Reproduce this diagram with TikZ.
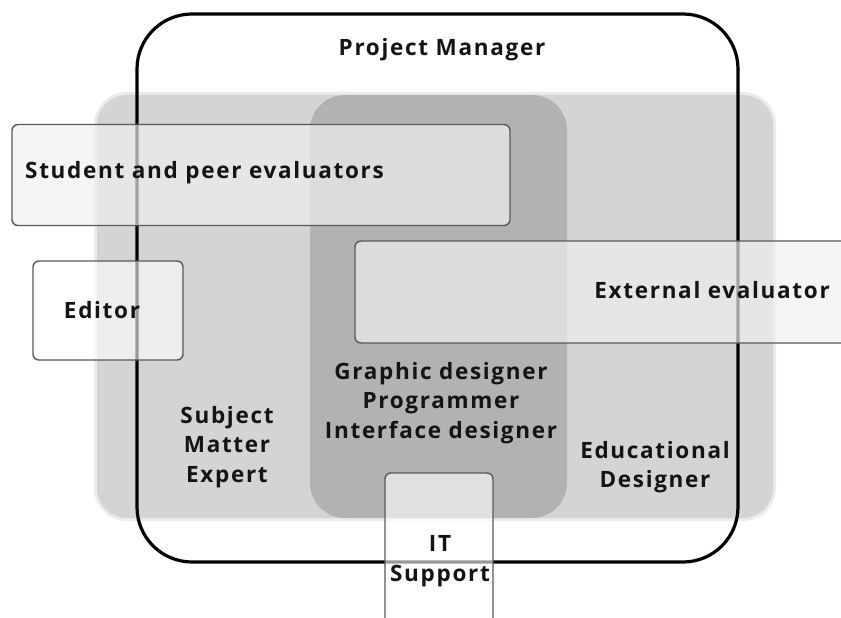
\documentclass[tikz,border=0pt]{standalone}
\usepackage{fontspec}
\setmainfont{Open Sans}[LetterSpace=7.5]
\begin{document}
\begin{tikzpicture}[x=1pt,y=-1pt,
  lbl/.style={font=\bfseries\fontsize{22.5}{29.5}\selectfont, align=center, inner sep=0pt, text=black!92},
  boxshape/.style={draw=black!65, line width=1.4pt, rounded corners=6pt, rectangle, inner sep=0pt},
  greybox/.style={boxshape, fill={rgb,255:red,240;green,240;blue,240}, fill opacity=0.68},
  whitebox/.style={boxshape, fill=white, fill opacity=0.6}]
\useasboundingbox (0,0) rectangle (841,618);
\clip (0,0) rectangle (841,618);
% soft halos
\fill[black!8, rounded corners=33pt] (94,92) rectangle (776,521);
\fill[black!17, rounded corners=30pt] (97,95) rectangle (773,518);
\fill[black!30, rounded corners=35pt] (310,95) rectangle (567,518);
% project manager frame
\node[draw=black, line width=3.2pt, rounded corners=55pt, rectangle, minimum width=601pt, minimum height=548pt, inner sep=0pt] (pm) at (437.5,288) {};
\node[lbl] (pmlbl) at (442,50) {Project Manager};
% inner labels
\node[lbl] (gd) at (441,403) {Graphic designer\\Programmer\\Interface designer};
\node[lbl] (sme) at (227,447) {Subject\\Matter\\Expert};
\node[lbl] (ed) at (655,467) {Educational\\Designer};
% overlapping boxes
\node[greybox, minimum width=498pt, minimum height=101pt] (spe) at (261,175) {};
\node[lbl, anchor=west] (spelbl) at (25,173) {Student and peer evaluators};
\node[whitebox, minimum width=150pt, minimum height=99pt] (edt) at (108,310.5) {};
\node[lbl] (edtlbl) at (102,310) {Editor};
\node[greybox, minimum width=520pt, minimum height=102pt] (ext) at (615,292) {};
\node[lbl, anchor=east] (extlbl) at (830,290) {External evaluator};
\node[whitebox, minimum width=108pt, minimum height=170pt] (its) at (439,558) {};
\node[lbl] (itslbl) at (440,561) {IT\\Support};
\end{tikzpicture}
\end{document}
